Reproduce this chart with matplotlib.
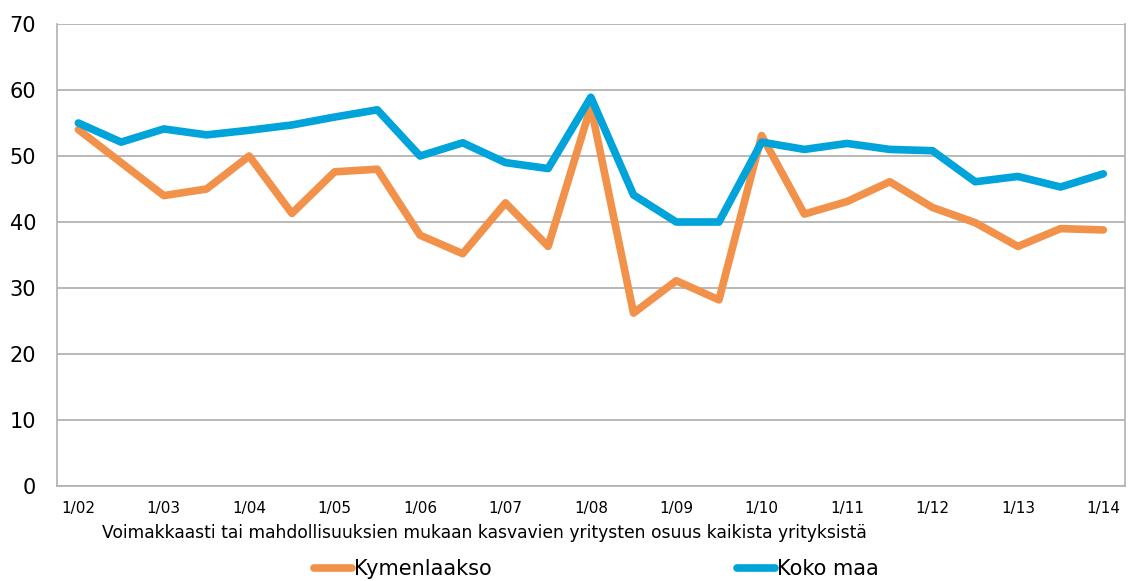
import matplotlib
matplotlib.use("Agg")
import matplotlib.pyplot as plt

# puolivuosittaiset havainnot 1/02 ... 1/14
periods = ["1/02", "7/02", "1/03", "7/03", "1/04", "7/04", "1/05", "7/05",
           "1/06", "7/06", "1/07", "7/07", "1/08", "7/08", "1/09", "7/09",
           "1/10", "7/10", "1/11", "7/11", "1/12", "7/12", "1/13", "7/13",
           "1/14"]
kymenlaakso = [54, 49, 44, 45, 50, 41.3, 47.6, 48, 38, 35.2, 42.9, 36.3,
               57.5, 26.2, 31.1, 28.2, 53.1, 41.2, 43.1, 46.1, 42.2, 39.9,
               36.3, 39.0, 38.8]
koko_maa = [55, 52.1, 54.1, 53.2, 53.9, 54.7, 55.9, 57, 50, 52, 49, 48.1,
            58.9, 44.1, 40, 40, 52.1, 51, 51.9, 51, 50.8, 46.1, 46.9, 45.3,
            47.3]
xlabel = "Voimakkaasti tai mahdollisuuksien mukaan kasvavien yritysten osuus kaikista yrityksistä"

orange = "#F2914A"
blue = "#00A3DA"

fig = plt.figure(figsize=(11.36, 5.81), dpi=100)
ax = fig.add_axes([0.0502, 0.1635, 0.9398, 0.7952])

x = list(range(len(periods)))
ax.plot(x, kymenlaakso, color=orange, linewidth=5.5, label="Kymenlaakso",
        solid_joinstyle="round", solid_capstyle="round")
ax.plot(x, koko_maa, color=blue, linewidth=5.5, label="Koko maa",
        solid_joinstyle="round", solid_capstyle="round")

ax.set_xlim(-0.5, len(periods) - 0.5)
ax.set_ylim(0, 70)
ax.set_yticks(range(0, 71, 10))
ax.set_xticks(x[::2])
ax.set_xticklabels(periods[::2], fontsize=11)
ax.tick_params(axis="y", labelsize=15, length=0, pad=15)
ax.tick_params(axis="x", length=0, pad=11)
ax.grid(axis="y", color="#A6A6A6", linewidth=1.1)
ax.set_axisbelow(True)
for s in ax.spines.values():
    s.set_color("#B0B0B0")
    s.set_linewidth(1.2)
ax.spines["top"].set_visible(False)

fig.text(0.426, 0.082, xlabel, ha="center", va="center", fontsize=12.3)

fig.legend(loc="center", bbox_to_anchor=(0.525, 0.02), ncol=2, frameon=False,
           fontsize=15, handlelength=1.8, handletextpad=0.1,
           columnspacing=11.8)

fig.savefig("out.png", dpi=100)
